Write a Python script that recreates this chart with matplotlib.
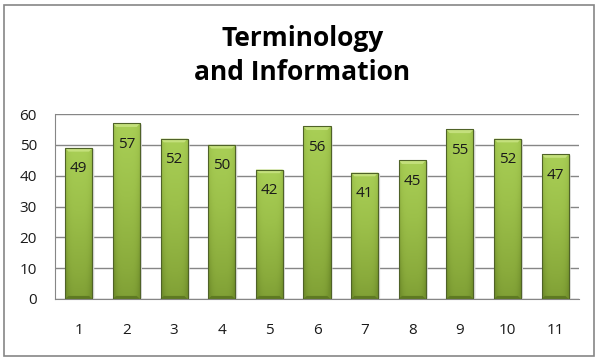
import numpy as np
import matplotlib
matplotlib.use('Agg')
import matplotlib.pyplot as plt
from matplotlib.colors import LinearSegmentedColormap

categories = ['1', '2', '3', '4', '5', '6', '7', '8', '9', '10', '11']
values = [49, 57, 52, 50, 42, 56, 41, 45, 55, 52, 47]
title = 'Terminology\nand Information'

plt.rcParams['font.family'] = ['Open Sans', 'DejaVu Sans']

fig = plt.figure(figsize=(6.05, 3.6), dpi=100)
# outer chart border
fig.patches.append(plt.Rectangle((4 / 605, 4 / 360), 590 / 605, 351 / 360, transform=fig.transFigure,
                                 fill=False, edgecolor='#868686', linewidth=1.2))
ax = fig.add_axes([55 / 605, 61 / 360, 524 / 605, 185 / 360])

x = np.arange(len(categories))
bars = ax.bar(x, values, width=0.57, color='none', edgecolor='#4f6228', linewidth=0.8, zorder=3)

# vertical gradient (light top, darker bottom) with darker sides
cmap = LinearSegmentedColormap.from_list('g', ['#718f2c', '#8aab3c', '#9cc04a', '#a9cf56'])
ny, nx = 100, 40
yy = np.linspace(0, 1, ny)[:, None]
xx = np.linspace(-1, 1, nx)[None, :]
grad = yy * 0.8 + 0.2 - 0.35 * np.abs(xx) ** 4
for b in bars:
    x0, y0 = b.get_x(), b.get_y()
    w, h = b.get_width(), b.get_height()
    im = ax.imshow(grad, extent=(x0, x0 + w, y0, y0 + h), origin='lower', aspect='auto',
                   cmap=cmap, vmin=0, vmax=1, zorder=2)
    im.set_clip_path(b)
    # top bevel
    ax.fill([x0, x0 + w, x0 + w * 0.88, x0 + w * 0.12], [y0 + h, y0 + h, y0 + h - 1.2, y0 + h - 1.2],
            color='#c4e07c', zorder=2.5, linewidth=0)
    # bottom bevel
    ax.fill([x0, x0 + w, x0 + w * 0.88, x0 + w * 0.12], [0, 0, 1.0, 1.0],
            color='#5e7a22', zorder=2.5, linewidth=0)
    # shadow to the right
    ax.fill([x0 + w, x0 + w + 0.04, x0 + w + 0.04, x0 + w], [0, 0, h - 0.5, h],
            color='#d8d8d8', zorder=1.5, linewidth=0)

for xi, v in zip(x, values):
    ax.text(xi, v - 6.8, str(v), ha='center', va='center', fontsize=11, color='#1a1a1a', zorder=4)

ax.set_xlim(-0.5, len(categories) - 0.5)
ax.set_ylim(0, 60)
ax.set_yticks(range(0, 61, 10))
ax.yaxis.grid(True, color='#868686', linewidth=1.0, zorder=0)
ax.set_axisbelow(True)
ax.set_xticks(x)
ax.set_xticklabels(categories)
ax.tick_params(axis='both', length=0, labelsize=11, colors='#1a1a1a')
ax.tick_params(axis='x', pad=17)
ax.tick_params(axis='y', pad=13)
for s in ['top', 'right']:
    ax.spines[s].set_visible(False)
for s in ['left', 'bottom']:
    ax.spines[s].set_color('#868686')

fig.text(0.5, 1 - 25 / 360, title, ha='center', va='top', fontsize=19, fontweight='bold',
         linespacing=1.35)

fig.savefig('out.png', dpi=100)
